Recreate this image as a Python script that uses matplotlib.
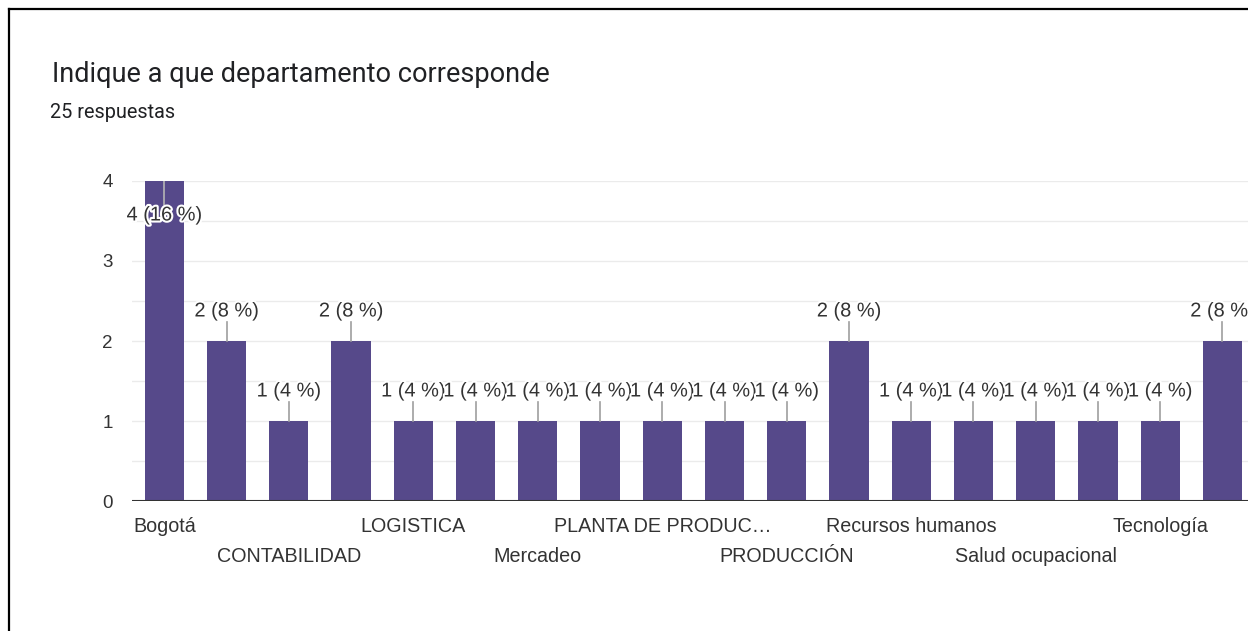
import matplotlib
matplotlib.use("Agg")
import matplotlib.pyplot as plt
import matplotlib.patheffects as pe
from matplotlib.lines import Line2D

# ---- data ----
title = "Indique a que departamento corresponde"
subtitle = "25 respuestas"
# Hidden (unreadable) category names are left as empty strings
categories = ["Bogotá", "", "CONTABILIDAD", "", "LOGISTICA", "", "Mercadeo", "",
              "PLANTA DE PRODUC…", "", "PRODUCCIÓN", "", "Recursos humanos", "",
              "Salud ocupacional", "", "Tecnología", ""]
values = [4, 2, 1, 2, 1, 1, 1, 1, 1, 1, 1, 2, 1, 1, 1, 1, 1, 2]
total = 25
yticks = [0, 1, 2, 3, 4]

BAR = "#56498a"
TXT = "#333333"
W, H = 1248, 631

fig = plt.figure(figsize=(W / 100, H / 100), dpi=100)
fig.patch.set_facecolor("white")

# axes geometry in pixels
x_left_px = 132
unit_px = 62.24
xmin = -0.52
xmax = 19.0
ax_w_px = (xmax - xmin) * unit_px
y0_px, y4_px = 501, 181
ax_bottom = (H - y0_px) / H
ax_h = (y0_px - y4_px) / H
ax = fig.add_axes([x_left_px / W, ax_bottom, ax_w_px / W, ax_h])
ax.set_xlim(xmin, xmax)
ax.set_ylim(0, 4)

x = list(range(len(values)))
ax.bar(x, values, width=0.63, color=BAR, zorder=3)

# gridlines every 0.5
for g in [0.5, 1, 1.5, 2, 2.5, 3, 3.5, 4]:
    ax.axhline(g, color="#ebebeb", lw=1.0, zorder=1)
ax.axhline(0, color="#333333", lw=1.5, zorder=4)

for s in ax.spines.values():
    s.set_visible(False)

ax.set_yticks(yticks)
ax.set_yticklabels([str(v) for v in yticks], fontsize=13.5, color=TXT,
                   family="Liberation Sans")
ax.tick_params(axis="y", length=0, pad=14)

ax.set_xticks(x)
ax.set_xticklabels(categories, fontsize=14.2, color=TXT, family="Liberation Sans")
ax.tick_params(axis="x", length=0)
for i, t in enumerate(ax.xaxis.get_major_ticks()):
    t.set_pad(11.5 if (i // 2) % 2 == 0 else 33)

# value labels with leader lines
upp = 4 / (y0_px - y4_px)  # units per pixel
halo = [pe.withStroke(linewidth=3, foreground="white")]
for xi, v in zip(x, values):
    lab = f"{v} ({v / total * 100:.0f} %)"
    if v >= 4:
        ax.plot([xi, xi], [v, v - 24 * upp], color="#b5b5b5", lw=1.2, zorder=5)
        ty = v - 34 * upp
    else:
        ax.plot([xi, xi], [v, v + 19 * upp], color="#9e9e9e", lw=1.2, zorder=5)
        ty = v + 30 * upp
    ax.text(xi, ty, lab, ha="center", va="center", fontsize=14.4, color=TXT,
            family="Liberation Sans", path_effects=halo, zorder=6)

# titles
fig.text(52 / W, 1 - 74 / H, title, fontsize=19.5, color="#202124",
         family="Roboto", ha="left", va="center")
fig.text(50 / W, 1 - 112 / H, subtitle, fontsize=14.3, color="#202124",
         family="Roboto", ha="left", va="center")

# black frame (top and left)
fig.add_artist(Line2D([9 / W, 1.0], [1 - 9 / H, 1 - 9 / H], color="black",
                      lw=1.6, transform=fig.transFigure))
fig.add_artist(Line2D([9 / W, 9 / W], [0, 1 - 9 / H], color="black",
                      lw=1.6, transform=fig.transFigure))

fig.savefig("out.png", dpi=100)
